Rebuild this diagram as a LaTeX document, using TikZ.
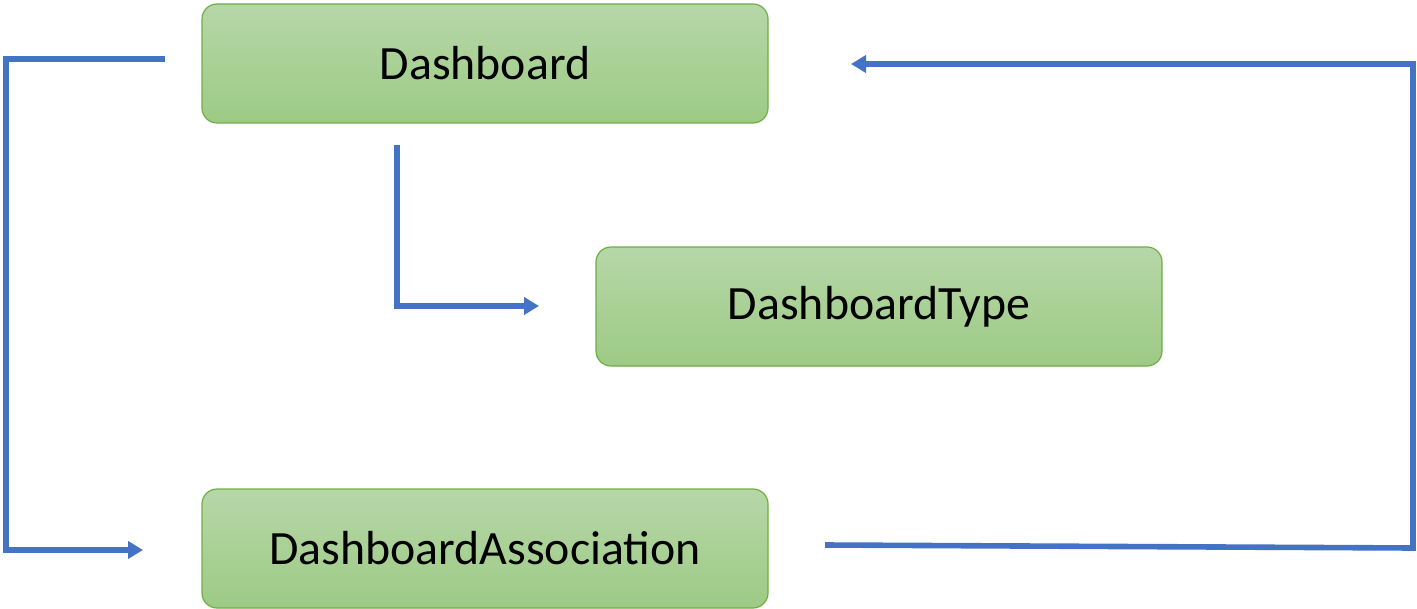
\documentclass[tikz,border=0pt]{standalone}
\usepackage{fontspec}
\setmainfont{Carlito}
\usetikzlibrary{arrows.meta}
\definecolor{boxtop}{HTML}{B6D7A8}
\definecolor{boxbot}{HTML}{9DCA84}
\definecolor{boxline}{HTML}{70AD47}
\definecolor{conn}{HTML}{4472C4}
\tikzset{
  entity/.style={draw=boxline, line width=0.6pt, rounded corners=7.5pt,
    top color=boxtop, bottom color=boxbot, minimum width=283pt, minimum height=59.5pt,
    font=\fontsize{23.9}{28}\selectfont, inner sep=0pt},
  link/.style={draw=conn, line width=2.8pt},
  linkarrow/.style={link, -{Triangle[length=7.5pt,width=8.5pt]}}
}
\begin{document}
\begin{tikzpicture}[x=0.5pt,y=-0.5pt]
\useasboundingbox (0,0) rectangle (1417,609);
\node[entity] (dash) at (485,63.5) {Dashboard};
\node[entity] (type) at (879,306.5) {DashboardType};
\node[entity] (assoc) at (485,548.5) {DashboardAssociation};
% connector 1
\coordinate (c1s) at (165,59);
\coordinate (c1a) at (6,59);
\coordinate (c1b) at (6,550);
\coordinate (c1e) at (143,550);
\draw[linkarrow] (c1s) -- (c1a) -- (c1b) -- (c1e);
% connector 2
\coordinate (c2s) at (397,145);
\coordinate (c2a) at (397,306);
\coordinate (c2e) at (539,306);
\draw[linkarrow] (c2s) -- (c2a) -- (c2e);
% connector 3
\coordinate (c3s) at (825,545);
\coordinate (c3a) at (1413,548);
\coordinate (c3b) at (1413,64);
\coordinate (c3e) at (851,64);
\draw[linkarrow] (c3s) -- (c3a) -- (c3b) -- (c3e);
\end{tikzpicture}
\end{document}
